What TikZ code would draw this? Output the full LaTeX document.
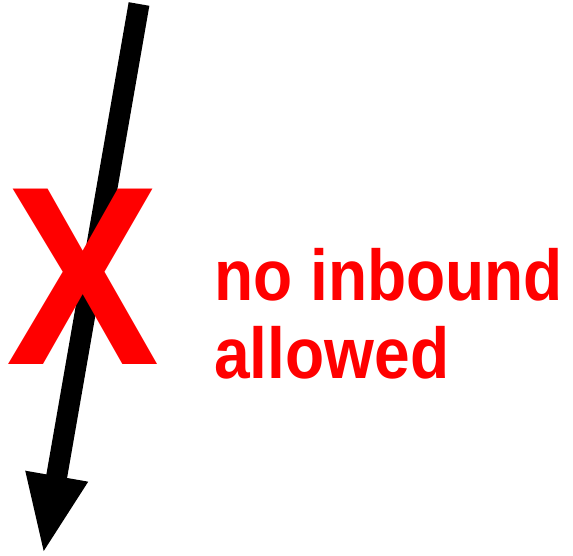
\documentclass[tikz,border=0pt]{standalone}
\usepackage{fontspec}
\usepackage{xcolor}
\usetikzlibrary{arrows.meta}
\newfontfamily\crossfont[FakeStretch=0.9]{Liberation Sans Bold}
\newfontfamily\notefont[FakeStretch=0.89]{Liberation Sans Bold}
\definecolor{warnred}{RGB}{255,0,0}

\begin{document}
\begin{tikzpicture}[x=1pt,y=1pt,
    bigarrow/.style={line width=21pt,-{Triangle[length=80pt,width=57pt]}},
    crossmark/.style={inner sep=0pt,text=warnred,font=\crossfont\fontsize{255}{255}\selectfont},
    notetext/.style={inner sep=0pt,text=warnred,align=left,font=\notefont\fontsize{72}{78.5}\selectfont}]
    \useasboundingbox (0,0) rectangle (573,556);

    % Arrow
    \coordinate (top) at (139,552);
    \coordinate (tip) at (43,1);
    \draw[bigarrow] (top) -- (tip);

    % Cross
    \node[crossmark,anchor=base] (cross) at (83,191.6) {X};

    % Text
    \node[notetext,anchor=base west] (note) at (214,177) {no inbound\\allowed};
\end{tikzpicture}
\end{document}
